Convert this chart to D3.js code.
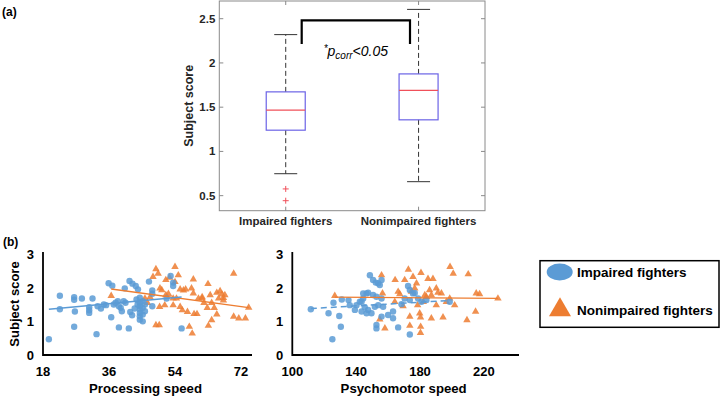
<!DOCTYPE html>
<html>
<head>
<meta charset="utf-8">
<script src="https://cdn.jsdelivr.net/npm/d3@7"></script>
<style>
  body { margin: 0; background: #fff; }
  svg { display: block; font-family: Arial, "Liberation Sans", sans-serif; }
</style>
</head>
<body>
<div id="chart"></div>
<script>
// ---- panel (a): box plot summary ----
const groups = ["Impaired fighters", "Nonimpaired fighters"];
const boxStats = [
  { q1: 1.24, median: 1.466, q3: 1.673, lo: 0.748, hi: 2.32 },
  { q1: 1.357, median: 1.69, q3: 1.876, lo: 0.658, hi: 2.605 }
];
const boxOutliers = [[0.576, 0.443], []];
const boxTicks = [0.5, 1, 1.5, 2, 2.5];

// ---- panel (b): scatter data [speed, score] ----
const procImpaired = [
  [19.6,0.47],[22.6,1.76],[22.6,1.36],[26.5,1.72],[26.5,1.64],[26.7,1.29],[26.5,0.84],[28.6,1.68],
  [30.6,1.42],[30.6,1.33],[30.6,1.25],[31.5,1.68],[32.6,0.62],[32.9,1.45],[33.8,1.38],[34.6,1.5],
  [35.2,1.48],[35.9,2.13],[36.9,2.06],[36.6,1.12],[37.3,1.5],[38.4,1.6],[38.7,1.45],[39.2,1.4],
  [38.7,0.82],[40.3,1.98],[40.5,1.55],[41.4,0.79],[41.6,2.2],[42.4,2.12],[43.3,2.05],[43.9,1.95],
  [41.8,1.28],[42.3,1.18],[43.5,1.65],[44.4,1.7],[44.4,1.55],[44.4,1.45],[44.4,1.35],[44.4,1.25],
  [44.4,1.15],[44.4,1.05],[45.2,1.6],[45.2,1.4],[45.2,1.2],[45.2,1.0],[45.8,1.5],[45.8,1.3],
  [43.8,1.5],[43.0,1.38],[46.9,2.18],[47.8,1.92],[47.8,1.82],[47.8,1.45],[51.7,1.68],[52.8,2.35],
  [53.5,2.15],[53.5,2.05],[55.8,0.79],[40.0,1.6],[39.5,1.3],[37.8,1.55]
];
const procNonimpaired = [
  [36.6,1.76],[48.8,2.55],[49.4,2.42],[48.0,2.32],[54.0,2.62],[54.9,2.37],[51.5,2.23],[52.5,2.3],
  [54.0,2.17],[49.9,1.98],[50.4,1.93],[51.5,1.78],[52.2,1.82],[55.4,1.95],[56.3,1.92],[56.9,1.95],
  [59.0,2.25],[58.5,1.98],[59.0,1.83],[63.0,2.11],[61.4,1.68],[61.9,1.55],[62.8,1.40],[63.6,1.78],
  [64.0,1.55],[64.7,1.40],[65.4,1.85],[66.3,1.9],[66.8,1.8],[67.2,1.7],[67.2,1.62],[67.6,1.78],
  [65.9,1.68],[70.0,2.42],[74.1,1.41],[73.2,1.09],[70.0,1.14],[71.4,1.09],[65.4,1.21],[64.0,1.04],
  [63.1,0.87],[57.9,0.84],[58.7,0.64],[48.8,0.89],[49.7,0.89],[51.2,1.48],[49.8,1.43],[53.5,1.48],
  [55.4,1.43],[56.0,1.33],[57.4,1.28],[59.2,1.22],[60.0,1.22],[53.5,1.68],[54.4,1.68],[60.4,1.68],
  [61.4,1.72],[47.2,1.72],[46.5,1.55],[45.8,1.68]
];
const psychImpaired = [
  [111.6,1.36],[122.7,1.24],[125.8,1.55],[129.4,1.16],[130.4,0.84],[125.1,0.47],[131,1.65],[135.2,1.63],
  [136,1.48],[140.2,1.48],[142.3,1.58],[144.4,1.68],[146.5,1.83],[139.2,1.34],[143.4,1.29],[146.5,1.24],
  [148.6,2.37],[150.6,2.23],[152.3,2.15],[153.8,2.13],[154.8,2.08],[155.9,2.23],[144.4,1.83],[147.5,1.85],
  [150.6,1.78],[152.7,1.73],[155.9,1.68],[143.4,1.58],[145.4,1.42],[147.5,1.34],[149.6,1.24],[151.7,1.43],
  [153.8,1.48],[156.9,1.43],[152.7,0.89],[152.7,0.79],[155.9,1.14],[160,1.19],[163.1,1.29],[163.1,1.09],
  [166.3,0.82],[173.6,0.61],[168.4,1.51],[170.4,1.68],[173.6,1.63],[175.6,1.83],[178.8,1.68],[180.9,1.58],
  [184,1.63],[198.6,1.58],[172.5,2.05],[173.6,1.93],[176.7,1.84]
];
const psychNonimpaired = [
  [126.6,1.76],[155.9,2.37],[164.4,2.23],[170.4,2.23],[172.7,2.54],[175.6,2.32],[180.6,2.44],[185,2.26],
  [188.1,2.26],[198.8,2.62],[200.8,2.42],[210.2,2.40],[156.5,1.83],[166.3,1.88],[167.3,1.81],[174.6,1.88],
  [176.7,1.98],[177.8,2.13],[183,1.78],[186,1.93],[187.1,1.78],[190.2,1.98],[191.2,1.85],[193.4,1.83],
  [198.6,1.68],[201.7,1.48],[215.2,1.83],[217.3,1.81],[228.8,1.68],[214.8,1.29],[209.4,1.04],[154.8,1.06],
  [158,0.79],[173.6,1.14],[180.3,1.12],[187.1,1.09],[194.4,1.12],[173.6,0.87],[180.4,0.84],[180.3,0.66],
  [164.2,1.58],[169.4,1.45],[179.8,1.24],[190.2,1.48],[196.5,1.58],[178.5,1.48],[182,1.58],[184,1.73]
];
// trend lines (end points)
const procImpairedFit = [[19.6,1.36],[55.8,1.72]];
const procNonimpairedFit = [[36.6,1.96],[74.1,1.41]];
const psychImpairedFit = [[111.6,1.38],[198.6,1.62]];
const psychNonimpairedFit = [[126.6,1.72],[228.8,1.68]];
const procTicks = [18, 36, 54, 72];
const psychTicks = [100, 140, 180, 220];
const scoreTicks = [0, 1, 2, 3];

const blue = "#5B9BD5";
const orange = "#ED7D31";

const svg = d3.select("#chart").append("svg")
  .attr("width", 720)
  .attr("height", 396);

// ================= panel (a) =================
const boxLeft = 219.3, boxRight = 485, boxTop = 1, boxBottom = 210.7;
const y = d3.scaleLinear().domain([0.33, 2.7]).range([boxBottom, boxTop]);
const x = d3.scalePoint().domain(groups).range([boxLeft, boxRight]).padding(0.5);

svg.append("text").attr("x", 2).attr("y", 16)
  .attr("font-size", 12).attr("font-weight", "bold").text("(a)");

const frame = svg.append("g");
frame.append("rect")
  .attr("x", boxLeft).attr("y", boxTop)
  .attr("width", boxRight - boxLeft).attr("height", boxBottom - boxTop)
  .attr("fill", "none").attr("stroke", "#8a8a8a").attr("stroke-width", 1);

// inward ticks on all sides
boxTicks.forEach(t => {
  frame.append("line").attr("x1", boxLeft).attr("x2", boxLeft + 4)
    .attr("y1", y(t)).attr("y2", y(t)).attr("stroke", "#8a8a8a");
  frame.append("line").attr("x1", boxRight).attr("x2", boxRight - 4)
    .attr("y1", y(t)).attr("y2", y(t)).attr("stroke", "#8a8a8a");
});
groups.forEach(g => {
  frame.append("line").attr("x1", x(g)).attr("x2", x(g))
    .attr("y1", boxBottom).attr("y2", boxBottom - 4).attr("stroke", "#8a8a8a");
  frame.append("line").attr("x1", x(g)).attr("x2", x(g))
    .attr("y1", boxTop).attr("y2", boxTop + 4).attr("stroke", "#8a8a8a");
});

svg.append("g").selectAll("text")
  .data(boxTicks).enter().append("text")
  .attr("x", boxLeft - 4).attr("y", d => y(d) + 4)
  .attr("text-anchor", "end").attr("font-size", 11.5).attr("font-weight", "bold")
  .attr("fill", "#262626")
  .text(d => d);

svg.append("g").selectAll("text")
  .data(groups).enter().append("text")
  .attr("x", d => x(d)).attr("y", 225)
  .attr("text-anchor", "middle").attr("font-size", 11.5).attr("font-weight", "bold")
  .attr("fill", "#262626")
  .text(d => d);

svg.append("text")
  .attr("transform", `translate(193,${(boxTop + boxBottom) / 2}) rotate(-90)`)
  .attr("text-anchor", "middle").attr("font-size", 12.5).attr("font-weight", "bold")
  .attr("fill", "#262626")
  .text("Subject score");

const boxW = 39, capW = 23;
const boxes = svg.append("g").selectAll("g")
  .data(boxStats).enter().append("g");

boxes.each(function (d, i) {
  const g = d3.select(this);
  const cx = x(groups[i]);
  // whiskers
  g.append("line").attr("x1", cx).attr("x2", cx)
    .attr("y1", y(d.q3)).attr("y2", y(d.hi))
    .attr("stroke", "#333").attr("stroke-dasharray", "5,3");
  g.append("line").attr("x1", cx).attr("x2", cx)
    .attr("y1", y(d.q1)).attr("y2", y(d.lo))
    .attr("stroke", "#333").attr("stroke-dasharray", "5,3");
  [d.hi, d.lo].forEach(v => {
    g.append("line").attr("x1", cx - capW / 2).attr("x2", cx + capW / 2)
      .attr("y1", y(v)).attr("y2", y(v)).attr("stroke", "#333");
  });
  g.append("rect")
    .attr("x", cx - boxW / 2).attr("y", y(d.q3))
    .attr("width", boxW).attr("height", y(d.q1) - y(d.q3))
    .attr("fill", "none").attr("stroke", "#6b63e6").attr("stroke-width", 1.2);
  g.append("line").attr("x1", cx - boxW / 2).attr("x2", cx + boxW / 2)
    .attr("y1", y(d.median)).attr("y2", y(d.median))
    .attr("stroke", "#f0505a").attr("stroke-width", 1.2);
  boxOutliers[i].forEach(v => {
    g.append("path")
      .attr("transform", `translate(${cx},${y(v)})`)
      .attr("d", "M-3,0H3M0,-3V3")
      .attr("stroke", "#f0505a").attr("stroke-width", 1);
  });
});

// significance bracket
const bx1 = 301.7, bx2 = 410, byTop = y(2.48), byBot = y(2.215);
svg.append("path")
  .attr("d", `M${bx1},${byBot}V${byTop}H${bx2}V${byBot}`)
  .attr("fill", "none").attr("stroke", "#000").attr("stroke-width", 2.2);
const pText = svg.append("text")
  .attr("x", (bx1 + bx2) / 2).attr("y", 56)
  .attr("text-anchor", "middle").attr("font-size", 14).attr("font-style", "italic");
pText.append("tspan").attr("font-size", 10).attr("dy", -4).text("*");
pText.append("tspan").attr("dy", 4).text("p");
pText.append("tspan").attr("font-size", 10).attr("dy", 3).text("corr");
pText.append("tspan").attr("dy", -3).text("<0.05");

// ================= panel (b) =================
svg.append("text").attr("x", 3).attr("y", 246)
  .attr("font-size", 12).attr("font-weight", "bold").text("(b)");

const yS = d3.scaleLinear().domain([0, 3]).range([355, 254]);

function scatter(opts) {
  const g = svg.append("g");
  const xs = d3.scaleLinear().domain(opts.domain).range(opts.range);

  g.append("g").selectAll("text").data(scoreTicks).enter().append("text")
    .attr("x", opts.range[0] - 9).attr("y", d => yS(d) + 5)
    .attr("text-anchor", "end").attr("font-size", 13).attr("font-weight", "bold")
    .text(d => d);
  g.append("g").selectAll("text").data(opts.ticks).enter().append("text")
    .attr("x", d => xs(d)).attr("y", 376)
    .attr("text-anchor", "middle").attr("font-size", 13).attr("font-weight", "bold")
    .text(d => d);
  g.append("text")
    .attr("x", (opts.range[0] + opts.range[1]) / 2 - 2).attr("y", 393)
    .attr("text-anchor", "middle").attr("font-size", 13.2).attr("font-weight", "bold")
    .text(opts.title);

  const line = d3.line().x(d => xs(d[0])).y(d => yS(d[1]));

  g.append("g").selectAll("path").data(opts.non).enter().append("path")
    .attr("transform", d => `translate(${xs(d[0])},${yS(d[1])})`)
    .attr("d", d3.symbol().type(d3.symbolTriangle).size(24)())
    .attr("fill", orange).attr("fill-opacity", 0.85);
  g.append("g").selectAll("circle").data(opts.imp).enter().append("circle")
    .attr("cx", d => xs(d[0])).attr("cy", d => yS(d[1])).attr("r", 3.2)
    .attr("fill", blue).attr("fill-opacity", 0.85);

  g.append("path").datum(opts.nonFit).attr("d", line)
    .attr("stroke", orange).attr("stroke-width", 1.3).attr("fill", "none");
  g.append("path").datum(opts.impFit).attr("d", line)
    .attr("stroke", blue).attr("stroke-width", 1.5).attr("fill", "none")
    .attr("stroke-dasharray", opts.impDash || null);

  g.append("path")
    .attr("d", `M${opts.range[0]},${yS(3) - 2}V${yS(0)}H${opts.range[1]}`)
    .attr("fill", "none").attr("stroke", "#000").attr("stroke-width", 1.8);
}

scatter({
  domain: [18, 75], range: [43, 252], ticks: procTicks, title: "Processing speed",
  imp: procImpaired, non: procNonimpaired, impFit: procImpairedFit, nonFit: procNonimpairedFit
});
scatter({
  domain: [100, 242], range: [292.3, 519], ticks: psychTicks, title: "Psychomotor speed",
  imp: psychImpaired, non: psychNonimpaired, impFit: psychImpairedFit, nonFit: psychNonimpairedFit,
  impDash: "6,4"
});

svg.append("text")
  .attr("transform", `translate(18.5,304) rotate(-90)`)
  .attr("text-anchor", "middle").attr("font-size", 13).attr("font-weight", "bold")
  .text("Subject score");

// legend
const lg = svg.append("g");
lg.append("rect").attr("x", 540).attr("y", 260.7).attr("width", 179).attr("height", 66.6)
  .attr("fill", "#fff").attr("stroke", "#000").attr("stroke-width", 1.5);
lg.append("ellipse").attr("cx", 559.7).attr("cy", 272).attr("rx", 13).attr("ry", 8.5)
  .attr("fill", blue);
lg.append("path").attr("transform", "translate(560,310)")
  .attr("d", d3.symbol().type(d3.symbolTriangle).size(210)())
  .attr("fill", orange);
lg.append("text").attr("x", 577).attr("y", 277).attr("font-size", 13.5)
  .attr("font-weight", "bold").text("Impaired fighters");
lg.append("text").attr("x", 577).attr("y", 315).attr("font-size", 13.5)
  .attr("font-weight", "bold").text("Nonimpaired fighters");
</script>
</body>
</html>
